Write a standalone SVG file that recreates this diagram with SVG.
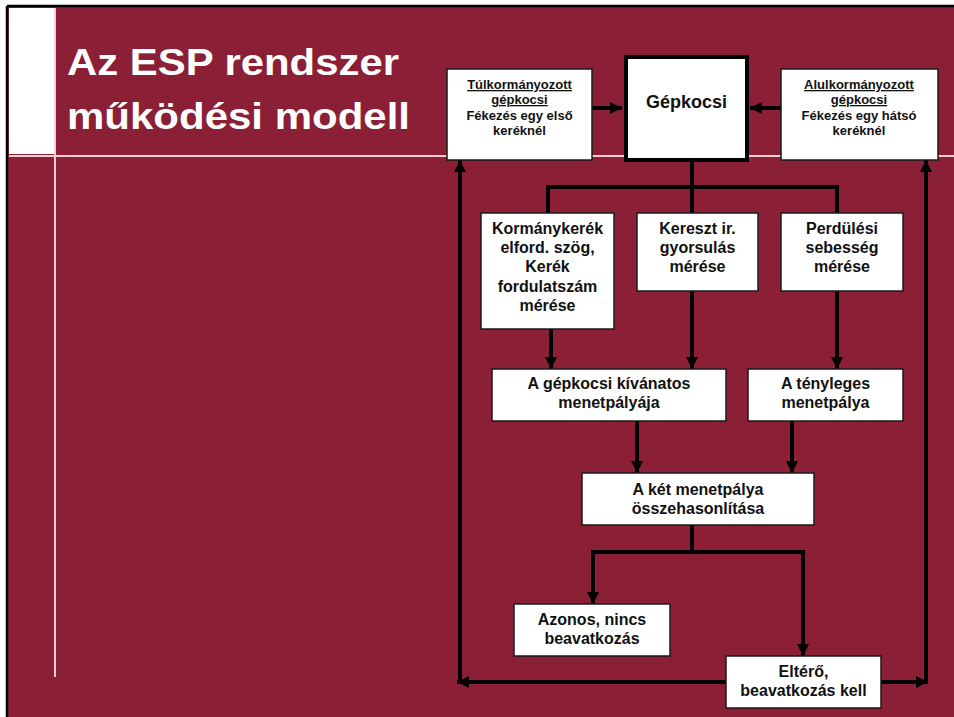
<svg xmlns="http://www.w3.org/2000/svg" width="954" height="717" viewBox="0 0 954 717">
<defs>
<marker id="ah" viewBox="0 0 12 12" refX="12" refY="6" markerWidth="12" markerHeight="12" orient="auto" markerUnits="userSpaceOnUse"><path d="M0,0 L12,6 L0,12 z" fill="#000"/></marker>
<style>
.box{fill:#fff;stroke:#1a1a1a;stroke-width:1.5}
.t{font-family:"Liberation Sans",Arial,sans-serif;font-weight:bold;fill:#111;text-anchor:middle}
.s13{font-size:13px}
.s16{font-size:16px}
.c{fill:none;stroke:#000;stroke-width:4}
.a{fill:none;stroke:#000;stroke-width:4;marker-end:url(#ah)}
.deco{stroke:#f4cdd5;stroke-width:2}
</style>
</defs>
<rect x="0" y="0" width="954" height="717" fill="#fff"/>
<rect x="7" y="6" width="947" height="711" fill="#8A1F35"/>
<path d="M7,6 H954 M7,6 V717" stroke="#000" stroke-width="2.5" fill="none"/>
<rect x="9" y="8" width="45" height="146" fill="#fff"/>
<line class="deco" x1="9" y1="156" x2="954" y2="156"/>
<line class="deco" x1="55" y1="8" x2="55" y2="677"/>
<g id="title" fill="#fff" font-family="'Liberation Sans',Arial,sans-serif" font-weight="bold" font-size="37">
<text x="67" y="75" textLength="332" lengthAdjust="spacingAndGlyphs">Az ESP rendszer</text>
<text x="67" y="129" textLength="343" lengthAdjust="spacingAndGlyphs">működési modell</text>
</g>
<g id="connectors">
<path class="a" d="M592,108 H622"/>
<path class="a" d="M781,108 H750"/>
<path class="c" d="M692,161 V213"/>
<path class="c" d="M548,213 V187 H837 V213"/>
<path class="a" d="M551,329 V369"/>
<path class="a" d="M692,291 V369"/>
<path class="a" d="M837,291 V369"/>
<path class="a" d="M637,421 V473"/>
<path class="a" d="M792,421 V473"/>
<path class="c" d="M692,525 V552"/>
<path class="a" d="M593,552 V604"/>
<path class="a" d="M591,552 H803 V656"/>
<path class="a" d="M726,682 H457"/>
<path class="a" d="M460,684 V160"/>
<path class="a" d="M881,682 H928"/>
<path class="a" d="M926,684 V160"/>
</g>
<g id="tulkormanyozott">
<rect class="box" x="447" y="69" width="145" height="91"/>
<text class="t s13" x="519.5" y="89" text-decoration="underline">Túlkormányozott</text>
<text class="t s13" x="519.5" y="104" text-decoration="underline">gépkocsi</text>
<text class="t s13" x="519.5" y="120">Fékezés egy első</text>
<text class="t s13" x="519.5" y="135">keréknél</text>
</g>
<g id="gepkocsi">
<rect x="626" y="57" width="121" height="103" fill="#fff" stroke="#000" stroke-width="4"/>
<text class="t" x="686.5" y="108" font-size="18">Gépkocsi</text>
</g>
<g id="alulkormanyozott">
<rect class="box" x="781" y="69" width="157" height="91"/>
<text class="t s13" x="859" y="89" text-decoration="underline">Alulkormányozott</text>
<text class="t s13" x="859" y="104" text-decoration="underline">gépkocsi</text>
<text class="t s13" x="859" y="120">Fékezés egy hátsó</text>
<text class="t s13" x="859" y="135">keréknél</text>
</g>
<g id="kormanykerek">
<rect class="box" x="481" y="213" width="133" height="116"/>
<text class="t s16" x="547.5" y="234">Kormánykerék</text>
<text class="t s16" x="547.5" y="253">elford. szög,</text>
<text class="t s16" x="547.5" y="272">Kerék</text>
<text class="t s16" x="547.5" y="292">fordulatszám</text>
<text class="t s16" x="547.5" y="311">mérése</text>
</g>
<g id="kereszt">
<rect class="box" x="637" y="213" width="121" height="78"/>
<text class="t s16" x="697.5" y="234">Kereszt ir.</text>
<text class="t s16" x="697.5" y="253">gyorsulás</text>
<text class="t s16" x="697.5" y="272">mérése</text>
</g>
<g id="perdulesi">
<rect class="box" x="781" y="213" width="122" height="78"/>
<text class="t s16" x="842" y="234">Perdülési</text>
<text class="t s16" x="842" y="253">sebesség</text>
<text class="t s16" x="842" y="272">mérése</text>
</g>
<g id="kivanatos">
<rect class="box" x="492" y="369" width="234" height="52"/>
<text class="t s16" x="609" y="389">A gépkocsi kívánatos</text>
<text class="t s16" x="609" y="408">menetpályája</text>
</g>
<g id="tenyleges">
<rect class="box" x="748" y="369" width="155" height="52"/>
<text class="t s16" x="825.5" y="389">A tényleges</text>
<text class="t s16" x="825.5" y="408">menetpálya</text>
</g>
<g id="osszehasonlitas">
<rect class="box" x="582" y="473" width="232" height="52"/>
<text class="t s16" x="698" y="495">A két menetpálya</text>
<text class="t s16" x="698" y="514">összehasonlítása</text>
</g>
<g id="azonos">
<rect class="box" x="514" y="604" width="156" height="52"/>
<text class="t s16" x="592" y="625">Azonos, nincs</text>
<text class="t s16" x="592" y="644">beavatkozás</text>
</g>
<g id="eltero">
<rect class="box" x="726" y="656" width="155" height="52"/>
<text class="t s16" x="803.5" y="677">Eltérő,</text>
<text class="t s16" x="803.5" y="696">beavatkozás kell</text>
</g>
</svg>
